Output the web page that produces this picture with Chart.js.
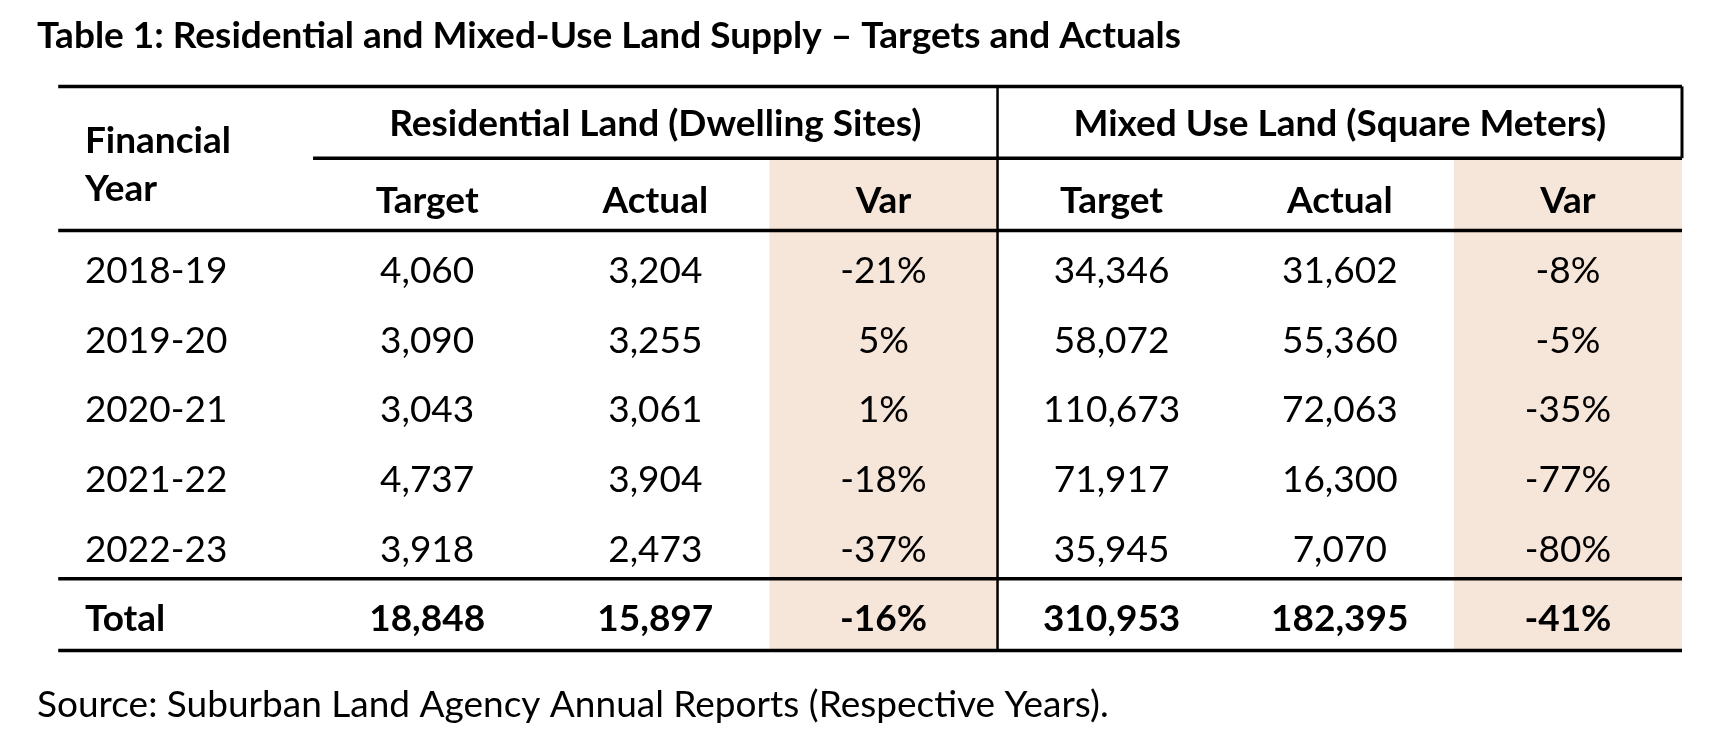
<!DOCTYPE html>
<html>
<head>
<meta charset="utf-8">
<title>Residential and Mixed-Use Land Supply</title>
<script src="https://cdn.jsdelivr.net/npm/chart.js@4.4.0/dist/chart.umd.min.js"></script>
<style>
  html, body { margin: 0; padding: 0; background: #fff; }
  #wrap { width: 1736px; height: 736px; }
</style>
</head>
<body>
<div id="wrap"><canvas id="landTable"></canvas></div>
<script>
// table values
const years = ["2018-19", "2019-20", "2020-21", "2021-22", "2022-23"];
const resTarget = [4060, 3090, 3043, 4737, 3918];
const resActual = [3204, 3255, 3061, 3904, 2473];
const resVar = [-21, 5, 1, -18, -37];
const mixTarget = [34346, 58072, 110673, 71917, 35945];
const mixActual = [31602, 55360, 72063, 16300, 7070];
const mixVar = [-8, -5, -35, -77, -80];
const resTotal = [18848, 15897, -16];
const mixTotal = [310953, 182395, -41];

const groupHeaders = ["Residential Land (Dwelling Sites)", "Mixed Use Land (Square Meters)"];
const subHeaders = ["Target", "Actual", "Var"];
const yearHeader = ["Financial", "Year"];
const totalLabel = "Total";

const titleText = "Table 1: Residential and Mixed-Use Land Supply \u2013 Targets and Actuals";
const sourceText = "Source: Suburban Land Agency Annual Reports (Respective Years).";

// layout in scale units (columns on x, rows on y)
const HEAD1 = 1.03;   // rule under group headers
const HEAD2 = 2.07;   // rule under sub headers
const Y_MAX = HEAD2 + years.length + 1.03;
const SHADE = "#f6e5d9";
const FONT = "Lato";
const FS = 37;

const num = v => v.toLocaleString("en-US");
const pct = v => v + "%";

// one scatter dataset per column, points sit at the cell centres
function column(xVal, values, fmt, total) {
  const data = values.map((v, i) => ({ x: xVal, y: HEAD2 + i + 0.56 }));
  const labels = values.map(fmt);
  data.push({ x: xVal, y: HEAD2 + values.length + 0.56 });
  labels.push(total);
  return { data, labels, pointRadius: 0, showLine: false, align: xVal === 0 ? "left" : "center" };
}

const datasets = [
  column(0, years, v => v, totalLabel),
  column(1.5, resTarget, num, num(resTotal[0])),
  column(2.5, resActual, num, num(resTotal[1])),
  column(3.5, resVar, pct, pct(resTotal[2])),
  column(4.5, mixTarget, num, num(mixTotal[0])),
  column(5.5, mixActual, num, num(mixTotal[1])),
  column(6.5, mixVar, pct, pct(mixTotal[2]))
];

function drawText(ctx, text, px, cy, weight, align) {
  ctx.font = `${weight} ${FS}px ${FONT}`;
  ctx.textAlign = align;
  ctx.textBaseline = "alphabetic";
  ctx.fillText(text, px, cy + FS * 0.36);
}

const tablePlugin = {
  id: "tableGrid",
  beforeDatasetsDraw(chart) {
    const { ctx, scales: { x, y } } = chart;
    ctx.save();

    // shaded Var columns
    ctx.fillStyle = SHADE;
    [3, 6].forEach(c => {
      const l = x.getPixelForValue(c), r = x.getPixelForValue(c + 1);
      const t = y.getPixelForValue(HEAD1), b = y.getPixelForValue(Y_MAX);
      ctx.fillRect(l, t, r - l, b - t);
    });

    ctx.strokeStyle = "#000";
    const hLine = (x0, x1, yv, w) => {
      ctx.lineWidth = w;
      ctx.beginPath();
      ctx.moveTo(x.getPixelForValue(x0), y.getPixelForValue(yv));
      ctx.lineTo(x.getPixelForValue(x1), y.getPixelForValue(yv));
      ctx.stroke();
    };
    const vLine = (xv, y0, y1, w) => {
      ctx.lineWidth = w;
      ctx.beginPath();
      ctx.moveTo(x.getPixelForValue(xv), y.getPixelForValue(y0));
      ctx.lineTo(x.getPixelForValue(xv), y.getPixelForValue(y1));
      ctx.stroke();
    };

    const left = -0.117;
    hLine(left, 7, 0, 3.5);
    hLine(1, 7, HEAD1, 3.5);
    hLine(left, 7, HEAD2, 3.5);
    hLine(left, 7, HEAD2 + years.length, 3.5);
    hLine(left, 7, Y_MAX, 3.5);
    vLine(4, 0, Y_MAX, 2.5);
    vLine(7, 0, HEAD1, 3);
    ctx.restore();
  },
  afterDatasetsDraw(chart) {
    const { ctx, scales: { x, y } } = chart;
    ctx.save();
    ctx.fillStyle = "#000";

    // headers
    drawText(ctx, groupHeaders[0], x.getPixelForValue(2.5), y.getPixelForValue(0.52), "bold", "center");
    drawText(ctx, groupHeaders[1], x.getPixelForValue(5.5), y.getPixelForValue(0.52), "bold", "center");
    drawText(ctx, yearHeader[0], x.getPixelForValue(0), y.getPixelForValue(0.77), "bold", "left");
    drawText(ctx, yearHeader[1], x.getPixelForValue(0), y.getPixelForValue(1.46), "bold", "left");
    [1.5, 2.5, 3.5, 4.5, 5.5, 6.5].forEach((c, i) => {
      drawText(ctx, subHeaders[i % 3], x.getPixelForValue(c), y.getPixelForValue(HEAD1 + 0.6), "bold", "center");
    });

    // cells, placed at the dataset points
    chart.data.datasets.forEach((ds, di) => {
      const meta = chart.getDatasetMeta(di);
      meta.data.forEach((pt, i) => {
        const isTotal = i === ds.labels.length - 1;
        drawText(ctx, ds.labels[i], pt.x, pt.y, isTotal ? "bold" : "normal", ds.align);
      });
    });
    ctx.restore();
  }
};

new Chart(document.getElementById("landTable"), {
  type: "scatter",
  data: { datasets: datasets },
  options: {
    responsive: true,
    maintainAspectRatio: false,
    animation: false,
    events: [],
    layout: { padding: { left: 37, right: 54, top: 0, bottom: 0 } },
    scales: {
      x: { type: "linear", display: false, min: -0.21, max: 7 },
      y: { type: "linear", display: false, reverse: true, min: 0, max: Y_MAX }
    },
    plugins: {
      legend: { display: false },
      tooltip: { enabled: false },
      title: {
        display: true,
        text: titleText,
        align: "start",
        color: "#000",
        font: { family: FONT, size: 37, weight: "bold" },
        padding: { top: 14, bottom: 28 }
      },
      subtitle: {
        display: true,
        position: "bottom",
        text: sourceText,
        align: "start",
        color: "#000",
        font: { family: FONT, size: 37, weight: "normal" },
        padding: { top: 32, bottom: 9 }
      }
    }
  },
  plugins: [tablePlugin]
});
</script>
</body>
</html>
